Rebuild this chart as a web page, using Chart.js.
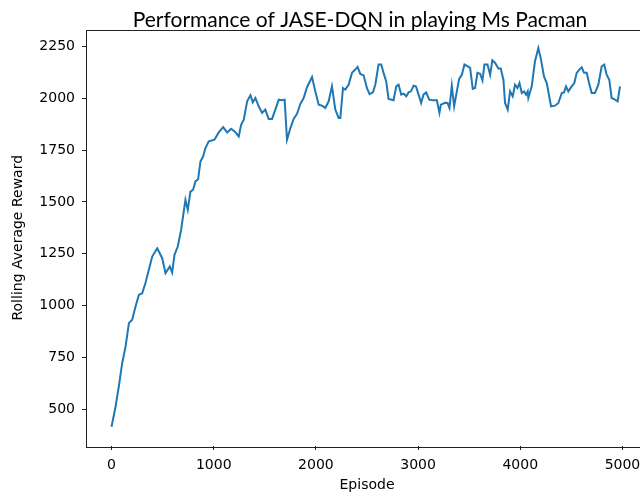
<!DOCTYPE html>
<html>
<head>
<meta charset="utf-8">
<script src="https://cdn.jsdelivr.net/npm/chart.js@4"></script>
<style>
html,body{margin:0;padding:0;background:#fff;overflow:hidden;width:640px;height:496px;}
#wrap{position:absolute;left:0;top:0;width:660px;height:496px;}
</style>
</head>
<body>
<div id="wrap"><canvas id="c" width="660" height="496"></canvas></div>
<script>
const episodes = [0,39,71,104,137,170,202,235,267,300,332,365,398,447,496,528,570,593,616,648,681,723,746,772,798,821,847,870,896,919,951,1007,1049,1092,1131,1170,1205,1245,1268,1294,1327,1359,1382,1408,1440,1473,1505,1538,1571,1603,1636,1668,1694,1717,1750,1782,1815,1848,1880,1913,1962,1994,2027,2060,2092,2125,2157,2190,2222,2239,2265,2287,2320,2353,2385,2408,2434,2467,2499,2525,2558,2581,2613,2639,2662,2688,2711,2760,2786,2809,2835,2858,2884,2907,2930,2956,2979,3005,3030,3053,3079,3109,3145,3184,3209,3223,3265,3288,3307,3330,3353,3379,3402,3428,3454,3483,3509,3535,3558,3581,3607,3630,3649,3679,3705,3727,3754,3786,3809,3835,3851,3877,3900,3926,3949,3972,3992,4015,4037,4057,4073,4079,4112,4144,4177,4203,4232,4259,4301,4340,4373,4406,4428,4448,4470,4503,4529,4552,4578,4601,4624,4650,4673,4699,4731,4764,4797,4822,4845,4871,4894,4927,4953,4976];
const rewards = [417,513,610,723,803,916,932,996,1052,1060,1109,1173,1237,1277,1229,1157,1189,1160,1245,1285,1366,1510,1462,1550,1559,1599,1609,1695,1719,1760,1792,1800,1835,1861,1835,1853,1840,1816,1872,1896,1985,2014,1980,2001,1961,1929,1945,1900,1900,1945,1993,1990,1993,1800,1855,1900,1925,1973,2001,2053,2102,2033,1969,1964,1953,1985,2057,1945,1905,1905,2049,2041,2065,2122,2138,2151,2117,2110,2049,2020,2028,2065,2162,2162,2122,2081,1996,1990,2057,2065,2017,2022,2009,2028,2033,2060,2057,2017,1977,2017,2028,1993,1990,1990,1929,1969,1978,1977,1953,2060,1961,2033,2093,2113,2162,2154,2146,2045,2049,2122,2118,2086,2162,2162,2113,2183,2170,2143,2143,2089,1977,1945,2033,2009,2065,2049,2073,2025,2033,2017,2033,2001,2057,2178,2242,2186,2105,2073,1961,1964,1977,2025,2028,2057,2033,2057,2073,2122,2138,2149,2122,2122,2073,2025,2025,2065,2154,2162,2113,2089,2001,1993,1985,2057];
const xTicks = [0,1000,2000,3000,4000,5000];
const yTicks = [500,750,1000,1250,1500,1750,2000,2250];
const titleText = 'Performance of JASE-DQN in playing Ms Pacman';
const xLabel = 'Episode';
const yLabel = 'Rolling Average Reward';

Chart.defaults.font.family = 'DejaVu Sans';
Chart.defaults.color = '#000';

const frame = {
  id: 'frame',
  afterDatasetsDraw(chart) {
    const a = chart.chartArea, ctx = chart.ctx;
    ctx.save();
    ctx.strokeStyle = '#222';
    ctx.lineWidth = 1;
    ctx.strokeRect(Math.round(a.left) + 0.5, Math.round(a.top) + 0.5,
                   Math.round(a.right - a.left), Math.round(a.bottom - a.top));
    ctx.restore();
  }
};

const titleDraw = {
  id: 'titleDraw',
  afterDraw(chart) {
    const ctx = chart.ctx;
    ctx.save();
    ctx.font = 'normal 21px Lato';
    ctx.fillStyle = '#000';
    ctx.textAlign = 'center';
    ctx.textBaseline = 'alphabetic';
    ctx.fillText(titleText, 360, 26.5);
    ctx.restore();
  }
};

new Chart(document.getElementById('c'), {
  type: 'line',
  data: {
    datasets: [{
      data: episodes.map((e, i) => ({x: e, y: rewards[i]})),
      borderColor: '#1f77b4',
      borderWidth: 2,
      pointRadius: 0,
      tension: 0,
      fill: false
    }]
  },
  options: {
    responsive: false,
    animation: false,
    events: [],
    layout: {padding: {left: 0, right: 12, top: 29.5, bottom: 0}},
    plugins: {
      legend: {display: false},
      tooltip: {enabled: false},
      title: {display: false}
    },
    scales: {
      x: {
        type: 'linear',
        min: -250, max: 5250,
        afterFit(s) { s.height = 50; },
        afterBuildTicks(s) { s.ticks = xTicks.map(v => ({value: v})); },
        grid: {display: true, drawOnChartArea: false, drawTicks: true, tickLength: 4, color: '#222'},
        border: {display: false},
        ticks: {font: {size: 14}, padding: 7, maxRotation: 0, autoSkip: false, color: '#000',
                callback: v => String(v)},
        title: {display: true, text: xLabel, font: {size: 14}, padding: {top: 0, bottom: 2.6}, color: '#000'}
      },
      y: {
        type: 'linear',
        min: 324, max: 2331,
        afterFit(s) { s.width = 86; },
        afterBuildTicks(s) { s.ticks = yTicks.map(v => ({value: v})); },
        grid: {display: true, drawOnChartArea: false, drawTicks: true, tickLength: 4, color: '#222'},
        border: {display: false},
        ticks: {font: {size: 14}, padding: 7, autoSkip: false, color: '#000',
                callback: v => String(v)},
        title: {display: true, text: yLabel, font: {size: 14}, padding: {top: 9.6, bottom: 0}, color: '#000'}
      }
    }
  },
  plugins: [frame, titleDraw]
});
</script>
</body>
</html>
